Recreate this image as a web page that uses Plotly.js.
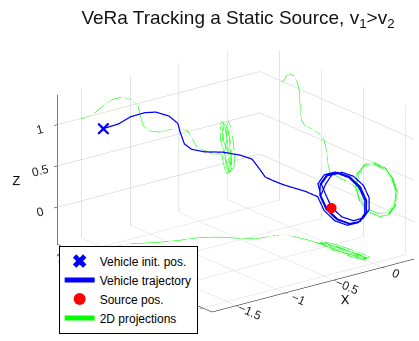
<!DOCTYPE html>
<html>
<head>
<meta charset="utf-8">
<script src="https://cdn.plot.ly/plotly-3.0.1.min.js"></script>
<style>html,body{margin:0;padding:0;background:#fff;}#chart{width:419px;height:341px;}</style>
</head>
<body>
<div id="chart"></div>
<script>
// ---- data ----
const titleText = 'VeRa Tracking a Static Source, v<sub>1</sub>&gt;v<sub>2</sub>';
const legendNames = ['Vehicle init. pos.', 'Vehicle trajectory', 'Source pos.', '2D projections'];
const initPos = [-1.5, 0.98, 0.99];
const sourcePos = [0, 0, 0];
const xTicks = [-1.5, -1, -0.5, 0];
const yTicks = [-0.5, 0, 0.5, 1];
const zTicks = [0, 0.5, 1];

// vehicle trajectory: approach, then four orbits round the source
const trajX = [
 -1.50,-1.37,-1.27,-1.17,-1.09,-0.99,-0.92,-0.90,-0.865,-0.80,-0.70,-0.58,-0.49,-0.41,-0.36,-0.31,-0.24,-0.15,-0.08,
 -0.057,-0.035,-0.012,0.006,0.015,0.011,-0.003,-0.025,-0.048,-0.066,-0.075,-0.071,
 -0.027,-0.006,0.017,0.034,0.043,0.040,0.027,0.006,-0.017,-0.034,-0.043,-0.040,
 0.006,0.025,0.047,0.063,0.071,0.068,0.054,0.035,0.013,-0.003,-0.011,-0.008,
 -0.036,-0.016,0.007,0.025,0.034,0.031,0.016,-0.004,-0.027,-0.045,-0.054,-0.051,-0.040
];
const trajY = [
 0.98,0.95,0.92,0.87,0.83,0.79,0.765,0.76,0.75,0.74,0.70,0.62,0.52,0.47,0.44,0.43,0.42,0.40,0.21,
 0.095,0.047,-0.056,-0.185,-0.306,-0.387,-0.405,-0.357,-0.254,-0.125,-0.004,0.077,
 0.090,0.043,-0.056,-0.180,-0.296,-0.373,-0.390,-0.343,-0.244,-0.120,-0.004,0.073,
 0.070,0.024,-0.071,-0.190,-0.301,-0.374,-0.390,-0.344,-0.249,-0.130,-0.019,0.054,
 0.090,0.042,-0.059,-0.185,-0.304,-0.382,-0.400,-0.352,-0.252,-0.125,-0.007,0.072,0.090
];
const trajZ = [
 0.99,1.02,1.09,1.13,1.13,1.07,0.97,0.86,0.71,0.63,0.585,0.58,0.56,0.51,0.39,0.28,0.22,0.15,0.13,
 0.110,-0.039,-0.127,-0.130,-0.047,0.099,0.270,0.419,0.507,0.510,0.427,0.281,
 0.110,-0.031,-0.115,-0.120,-0.045,0.091,0.250,0.391,0.475,0.480,0.405,0.269,
 0.120,-0.014,-0.091,-0.090,-0.011,0.124,0.280,0.414,0.491,0.490,0.411,0.276,
 0.110,-0.034,-0.118,-0.120,-0.038,0.104,0.270,0.414,0.498,0.500,0.418,0.276,0.120
];

// axis limits (walls that the projections are drawn on)
const xLim = [-1.75, 0.33];
const yLim = [-0.61, 1.24];
const zLim = [-0.45, 1.36];

const BLUE = '#0000ff', GREEN = '#00ff00', RED = '#ff0000';
const same = (arr, v) => arr.map(() => v);

const traces = [
  {type:'scatter3d', mode:'markers', name:legendNames[0],
   x:[initPos[0]], y:[initPos[1]], z:[initPos[2]],
   marker:{symbol:'x', size:2.6, color:BLUE}},
  {type:'scatter3d', mode:'lines', name:legendNames[1],
   x:trajX, y:trajY, z:trajZ, line:{color:BLUE, width:2.5}},
  {type:'scatter3d', mode:'markers', name:legendNames[2],
   x:[sourcePos[0]], y:[sourcePos[1]], z:[sourcePos[2]],
   marker:{symbol:'circle', size:6, color:RED}},
  {type:'scatter3d', mode:'lines', name:legendNames[3], legendgroup:'proj',
   x:trajX, y:same(trajY, yLim[1]), z:trajZ, line:{color:GREEN, width:1.2}},
  {type:'scatter3d', mode:'lines', name:legendNames[3], legendgroup:'proj', showlegend:false,
   x:same(trajX, xLim[1]), y:trajY, z:trajZ, line:{color:GREEN, width:1.2}},
  {type:'scatter3d', mode:'lines', name:legendNames[3], legendgroup:'proj', showlegend:false,
   x:trajX, y:trajY, z:same(trajZ, zLim[0]), line:{color:GREEN, width:1.2}}
];

const axisCommon = {
  showbackground:false, showgrid:true, gridcolor:'#c8c8c8', gridwidth:1,
  zeroline:false, showline:true, linecolor:'#000', linewidth:1,
  ticks:'outside', ticklen:4, tickcolor:'#000',
  tickfont:{size:12, color:'#222', family:'Liberation Sans, Arial, sans-serif'},
  showspikes:false
};

const camShift = {x:-0.129, y:0.099, z:0};
const eyeDir = {x:-1.152, y:-1.488, z:0.678};

const layout = {
  width:419, height:341,
  margin:{l:0, r:0, t:0, b:0},
  paper_bgcolor:'#fff',
  font:{family:'Liberation Sans, Arial, sans-serif', color:'#000', size:12},
  title:{text:titleText, x:0.568, xanchor:'center', xref:'container', y:0.95, yanchor:'middle', yref:'container',
         font:{size:19, color:'#111', family:'Liberation Sans, Arial, sans-serif'}},
  showlegend:true,
  legend:{x:0.14, y:0.28, xanchor:'left', yanchor:'top', bgcolor:'#fff',
          bordercolor:'#000', borderwidth:1, font:{size:12, color:'#000'},
          tracegroupgap:0, itemwidth:30, itemsizing:'constant'},
  scene:{
    domain:{x:[0, 1.0], y:[0.005, 0.955]},
    bgcolor:'#fff',
    aspectmode:'manual', aspectratio:{x:1.58, y:1.56, z:0.98},
    camera:{eye:{x:eyeDir.x + camShift.x, y:eyeDir.y + camShift.y, z:eyeDir.z + camShift.z},
            up:{x:0,y:0,z:1}, center:camShift,
            projection:{type:'orthographic'}},
    xaxis:Object.assign({}, axisCommon, {range:xLim, tickvals:xTicks, title:{text:'X', font:{size:13}}}),
    yaxis:Object.assign({}, axisCommon, {range:yLim, tickvals:yTicks, title:{text:'Y', font:{size:13}}}),
    zaxis:Object.assign({}, axisCommon, {range:zLim, tickvals:zTicks, title:{text:'Z', font:{size:13}}})
  }
};

Plotly.newPlot('chart', traces, layout, {displayModeBar:false});
</script>
</body>
</html>
